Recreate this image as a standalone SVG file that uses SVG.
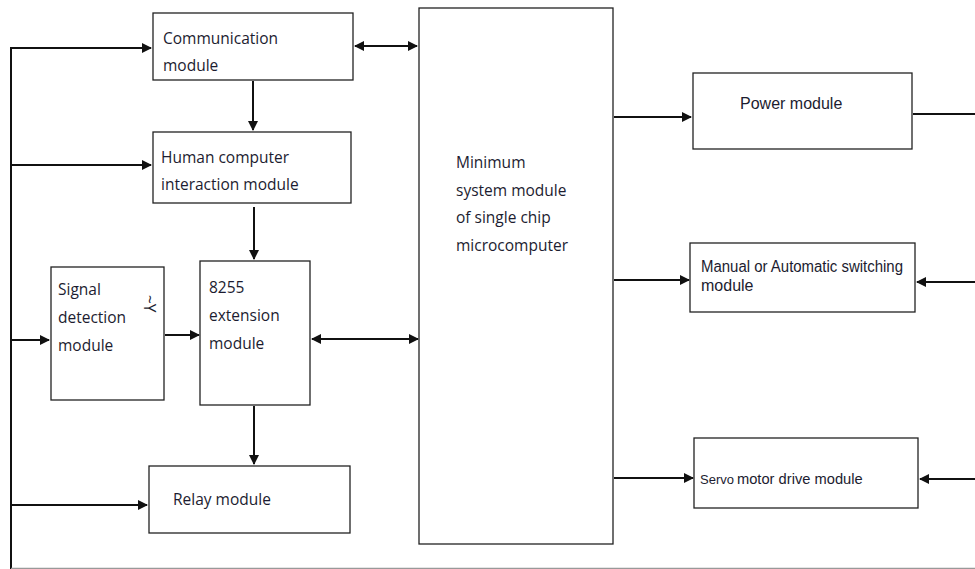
<svg xmlns="http://www.w3.org/2000/svg" width="975" height="569" viewBox="0 0 975 569">
<style>
.box{fill:#fff;stroke:#222;stroke-width:1.3}
.ln{fill:none;stroke:#111;stroke-width:2}
.t{font-family:"Open Sans","Noto Sans",sans-serif;font-size:15.5px;fill:#1c1c30}
.a{font-family:"Liberation Sans",Arial,sans-serif;font-size:16px;fill:#1c1c30}
</style>
<defs>
<marker id="ah" viewBox="0 0 10 10" refX="9" refY="5" markerWidth="5.5" markerHeight="5" orient="auto-start-reverse" markerUnits="strokeWidth">
<path d="M0,0 L10,5 L0,10 z" fill="#111"/>
</marker>
</defs>
<rect x="0" y="0" width="975" height="569" fill="#fff"/>
<g id="connectors">
<path class="ln" d="M11,569 V48"/>
<path class="ln" d="M10,48 H151" marker-end="url(#ah)"/>
<path class="ln" d="M11,165 H151" marker-end="url(#ah)"/>
<path class="ln" d="M12,340 H49" marker-end="url(#ah)"/>
<path class="ln" d="M11,505 H147" marker-end="url(#ah)"/>
<path class="ln" d="M355,46 H417" marker-start="url(#ah)" marker-end="url(#ah)"/>
<path class="ln" d="M253,81 V130" marker-end="url(#ah)"/>
<path class="ln" d="M254,207 V259" marker-end="url(#ah)"/>
<path class="ln" d="M165,335 H199" marker-end="url(#ah)"/>
<path class="ln" d="M312,339 H418" marker-start="url(#ah)" marker-end="url(#ah)"/>
<path class="ln" d="M254,406 V464" marker-end="url(#ah)"/>
<path class="ln" d="M614,117 H691" marker-end="url(#ah)"/>
<path class="ln" d="M614,280 H689" marker-end="url(#ah)"/>
<path class="ln" d="M614,478 H693" marker-end="url(#ah)"/>
<path class="ln" d="M913,114 H975"/>
<path class="ln" d="M975,282 H917" marker-end="url(#ah)"/>
<path class="ln" d="M975,479 H920" marker-end="url(#ah)"/>
<path d="M11,568.5 H975" stroke="#999" stroke-width="1.5" fill="none"/>
</g>
<g id="communication">
<rect class="box" x="153" y="13" width="200" height="67"/>
<text class="t" x="163" y="44">Communication</text>
<text class="t" x="163" y="71">module</text>
</g>
<g id="human">
<rect class="box" x="153" y="132" width="198" height="71"/>
<text class="t" x="161" y="163">Human computer</text>
<text class="t" x="161" y="190">interaction module</text>
</g>
<g id="signal">
<rect class="box" x="51" y="267" width="113" height="133"/>
<text class="t" x="58" y="295">Signal</text>
<text class="t" x="58" y="323">detection</text>
<text class="t" x="58" y="351">module</text>
<text class="t" x="0" y="0" font-size="8" transform="translate(144,295) rotate(90)">~Y</text>
</g>
<g id="ext8255">
<rect class="box" x="200" y="261" width="110" height="144"/>
<text class="t" x="209" y="293">8255</text>
<text class="t" x="209" y="321">extension</text>
<text class="t" x="209" y="349">module</text>
</g>
<g id="relay">
<rect class="box" x="149" y="466" width="201" height="67"/>
<text class="t" x="173" y="505">Relay module</text>
</g>
<g id="minimum">
<rect class="box" x="419" y="8" width="194" height="536"/>
<text class="t" x="456" y="168">Minimum</text>
<text class="t" x="456" y="196">system module</text>
<text class="t" x="456" y="223">of single chip</text>
<text class="t" x="456" y="251">microcomputer</text>
</g>
<g id="power">
<rect class="box" x="693" y="73" width="219" height="76"/>
<text class="a" x="740" y="109">Power module</text>
</g>
<g id="manual">
<rect class="box" x="690" y="243" width="225" height="69"/>
<text class="a" x="701" y="272" font-size="13.5" textLength="202" lengthAdjust="spacingAndGlyphs">Manual or Automatic switching</text>
<text class="a" x="701" y="291" font-size="13.5">module</text>
</g>
<g id="servo">
<rect class="box" x="694" y="438" width="224" height="70"/>
<text class="a" x="700" y="484"><tspan font-size="13">Servo</tspan><tspan font-size="14.7" dx="3">motor drive module</tspan></text>
</g>
</svg>
